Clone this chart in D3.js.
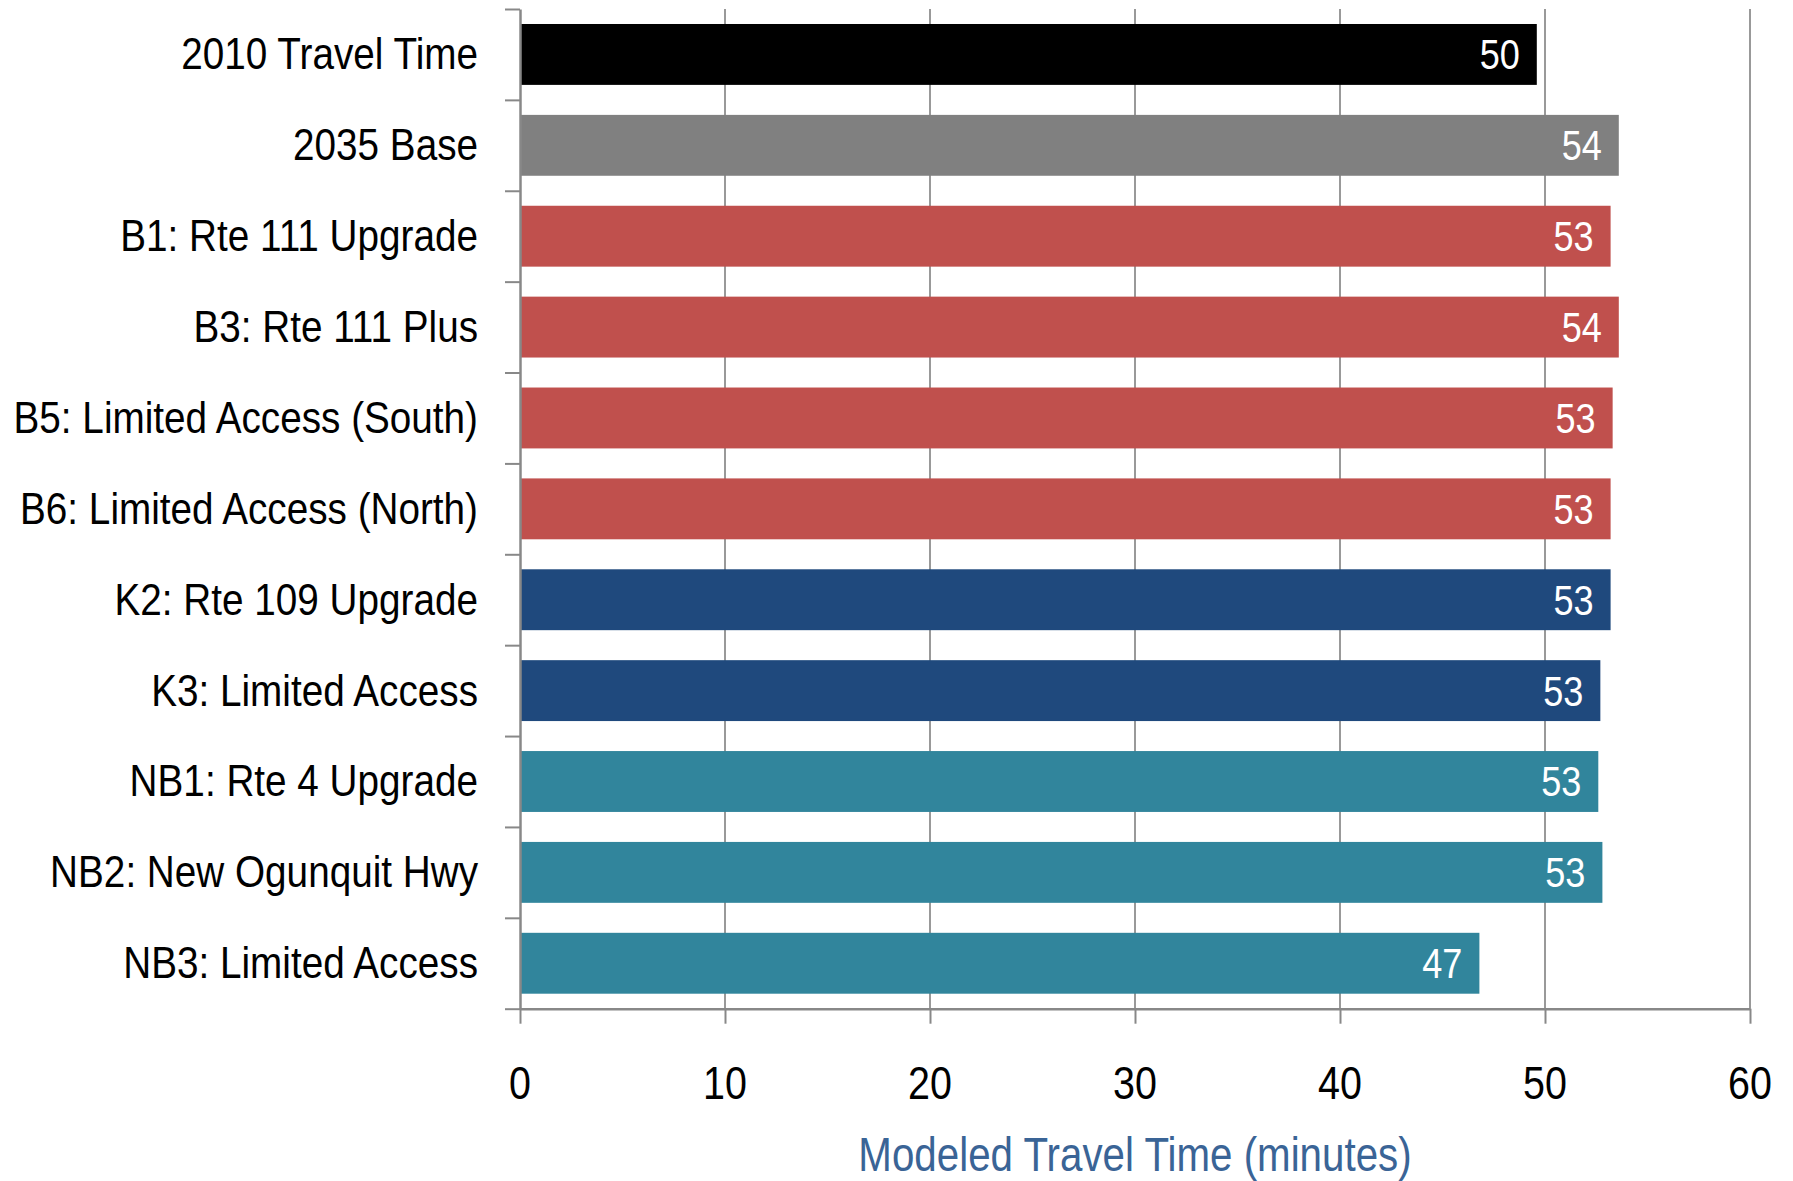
<!DOCTYPE html>
<html>
<head>
<meta charset="utf-8">
<script src="https://cdn.jsdelivr.net/npm/d3@7"></script>
<style>
  html, body { margin: 0; padding: 0; background: #fff; }
  svg { display: block; }
  text { font-family: "Liberation Sans", Arial, sans-serif; }
</style>
</head>
<body>
<svg id="chart" width="1793" height="1181"></svg>
<script>
// Scenario names, top to bottom
const categories = [
  "2010 Travel Time",
  "2035 Base",
  "B1: Rte 111 Upgrade",
  "B3: Rte 111 Plus",
  "B5: Limited Access (South)",
  "B6: Limited Access (North)",
  "K2: Rte 109 Upgrade",
  "K3: Limited Access",
  "NB1: Rte 4 Upgrade",
  "NB2: New Ogunquit Hwy",
  "NB3: Limited Access"
];
// Modeled travel time, minutes
const travelTimes = [49.6, 53.6, 53.2, 53.6, 53.3, 53.2, 53.2, 52.7, 52.6, 52.8, 46.8];
// Scenario group for each bar
const groups = ["existing", "base", "B", "B", "B", "B", "K", "K", "NB", "NB", "NB"];
const groupNames = ["existing", "base", "B", "K", "NB"];
const groupColors = ["#000000", "#808080", "#C0504D", "#1F497D", "#31859C"];
const xTicks = [0, 10, 20, 30, 40, 50, 60];
const axisTitle = "Modeled Travel Time (minutes)";

const svg = d3.select("#chart");
const plotLeft = 520, plotRight = 1750, plotTop = 9, plotBottom = 1008.7;
// Horizontal squeeze that gives the narrow lettering
const place = (px, py, k = 0.84) => `translate(${px},${py}) scale(${k},1)`;

const x = d3.scaleLinear().domain([0, 60]).range([plotLeft, plotRight]);
const y = d3.scaleBand().domain(categories).range([plotTop, plotBottom])
  .paddingInner(0.33).paddingOuter(0.165);
const color = d3.scaleOrdinal().domain(groupNames).range(groupColors);
// Category boundaries for the left axis ticks
const yEdge = d3.scaleLinear().domain([0, categories.length]).range([plotTop, plotBottom]);

const gridColor = "#999999";
const axisColor = "#888888";

// Vertical gridlines
svg.append("g")
  .selectAll("line")
  .data(xTicks.filter(d => d > 0))
  .join("line")
  .attr("x1", d => x(d)).attr("x2", d => x(d))
  .attr("y1", plotTop).attr("y2", plotBottom)
  .attr("stroke", gridColor).attr("stroke-width", 2);

// Bars
const rows = categories.map((c, i) => ({ name: c, value: travelTimes[i], group: groups[i] }));
svg.append("g")
  .selectAll("rect")
  .data(rows)
  .join("rect")
  .attr("x", x(0))
  .attr("y", d => y(d.name))
  .attr("width", d => x(d.value) - x(0))
  .attr("height", y.bandwidth())
  .attr("fill", d => color(d.group));

// Value labels inside bar ends
svg.append("g")
  .selectAll("text")
  .data(rows)
  .join("text")
  .attr("transform", d => place(x(d.value) - 17, y(d.name) + y.bandwidth() / 2 + 15))
  .attr("text-anchor", "end")
  .attr("fill", "#ffffff")
  .attr("font-size", 43)
  .text(d => d3.format(".0f")(d.value));

// Bottom axis
const xAxis = svg.append("g")
  .attr("transform", `translate(0,${plotBottom})`)
  .call(d3.axisBottom(x).tickValues(xTicks).tickSize(15).tickSizeOuter(0).tickFormat(""));
xAxis.select(".domain").attr("stroke", axisColor).attr("stroke-width", 2.5);
xAxis.selectAll(".tick line").attr("stroke", axisColor).attr("stroke-width", 2);

svg.append("g")
  .selectAll("text")
  .data(xTicks)
  .join("text")
  .attr("transform", d => place(x(d), 1099))
  .attr("text-anchor", "middle")
  .attr("fill", "#000")
  .attr("font-size", 47)
  .text(d => d);

// Left axis with ticks at category boundaries
const yAxis = svg.append("g")
  .attr("transform", `translate(${plotLeft},0)`)
  .call(d3.axisLeft(yEdge).tickValues(d3.range(categories.length + 1)).tickSize(15).tickSizeOuter(0).tickFormat(""));
yAxis.select(".domain").attr("stroke", axisColor).attr("stroke-width", 2.5);
yAxis.selectAll(".tick line").attr("stroke", axisColor).attr("stroke-width", 2);

// Category labels
svg.append("g")
  .selectAll("text")
  .data(categories)
  .join("text")
  .attr("transform", d => place(478, y(d) + y.bandwidth() / 2 + 15, 0.86))
  .attr("text-anchor", "end")
  .attr("fill", "#000")
  .attr("font-size", 45)
  .text(d => d);

// Axis title
svg.append("text")
  .attr("transform", place((plotLeft + plotRight) / 2, 1171))
  .attr("text-anchor", "middle")
  .attr("fill", "#3A6496")
  .attr("font-size", 48)
  .text(axisTitle);
</script>
</body>
</html>
